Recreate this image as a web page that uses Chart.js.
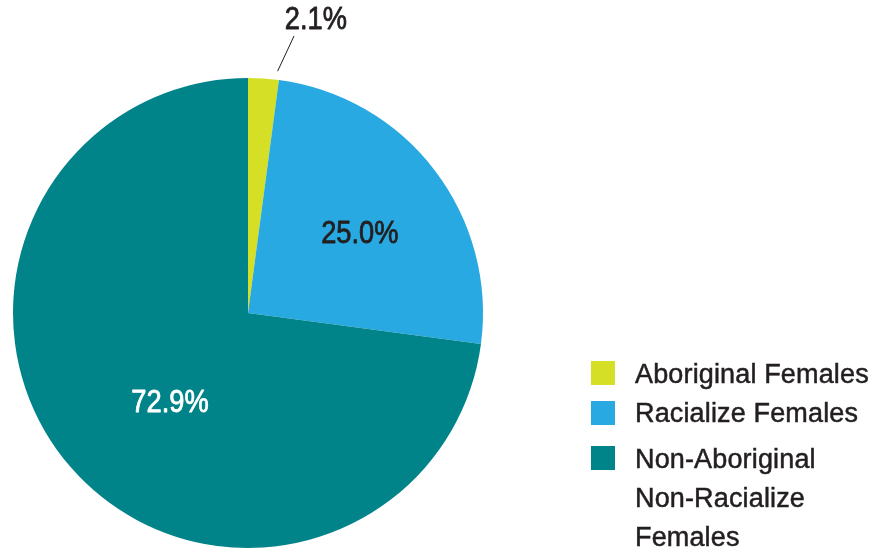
<!DOCTYPE html>
<html>
<head>
<meta charset="utf-8">
<script src="https://cdn.jsdelivr.net/npm/chart.js@4"></script>
<style>
  html, body { margin: 0; padding: 0; background: #fff; }
  #wrap { position: relative; width: 879px; height: 550px; overflow: hidden; }
  #c { position: absolute; left: 0; top: 0; }
  .lg-box { position: absolute; width: 24px; height: 24px; }
  .lg-txt { position: absolute; font-family: "Liberation Sans", Arial, sans-serif; font-size: 27px; line-height: 39px; color: #231f20; white-space: nowrap; -webkit-text-stroke: 0.5px #231f20; letter-spacing: 0.15px; }
</style>
</head>
<body>
<div id="wrap">
  <canvas id="c" width="879" height="550"></canvas>
  <div id="legend"></div>
</div>
<script>
const categories = ["Aboriginal Females", "Racialize Females", "Non-Aboriginal Non-Racialize Females"];
const legendLines = [["Aboriginal Females"], ["Racialize Females"], ["Non-Aboriginal", "Non-Racialize", "Females"]];
const values = [2.1, 25.0, 72.9];
const valueLabels = ["2.1%", "25.0%", "72.9%"];
const colors = ["#d5df25", "#29a9e1", "#00848a"];
const labelColors = ["#231f20", "#231f20", "#ffffff"];

const labelPlugin = {
  id: "sliceLabels",
  afterDatasetsDraw(chart) {
    const ctx = chart.ctx;
    const arcs = chart.getDatasetMeta(0).data;
    const a0 = arcs[0];
    const cx = a0.x, cy = a0.y, R = a0.outerRadius;
    const place = [
      { dx: 0.289, dy: -1.243 },
      { dx: 0.476, dy: -0.335 },
      { dx: -0.332, dy: 0.383 }
    ];
    ctx.save();
    ctx.font = "31px 'Liberation Sans', Arial, sans-serif";
    ctx.textAlign = "center";
    ctx.textBaseline = "middle";
    ctx.lineJoin = "round";
    arcs.forEach((arc, i) => {
      const x = cx + place[i].dx * R, y = cy + place[i].dy * R;
      ctx.save();
      ctx.translate(x, y);
      ctx.scale(0.88, 1);
      ctx.fillStyle = labelColors[i];
      ctx.strokeStyle = labelColors[i];
      ctx.lineWidth = 0.8;
      ctx.fillText(valueLabels[i], 0, 0);
      ctx.strokeText(valueLabels[i], 0, 0);
      ctx.restore();
    });
    ctx.strokeStyle = "#231f20";
    ctx.lineWidth = 1;
    ctx.beginPath();
    ctx.moveTo(cx + 0.126 * R, cy - 1.029 * R);
    ctx.lineTo(cx + 0.196 * R, cy - 1.179 * R);
    ctx.stroke();
    ctx.restore();
  }
};

new Chart(document.getElementById("c"), {
  type: "pie",
  data: {
    labels: categories,
    datasets: [{
      data: values,
      backgroundColor: colors,
      borderWidth: 0
    }]
  },
  options: {
    responsive: false,
    animation: false,
    layout: { padding: { top: 78, bottom: 2, left: 13, right: 396 } },
    plugins: {
      legend: { display: false },
      tooltip: { enabled: false }
    }
  },
  plugins: [labelPlugin]
});

const legend = document.getElementById("legend");
const boxTops = [361, 401, 446];
const textTops = [355, 394, 440];
categories.forEach((c, i) => {
  const b = document.createElement("div");
  b.className = "lg-box";
  b.style.left = "591px";
  b.style.top = boxTops[i] + "px";
  b.style.background = colors[i];
  legend.appendChild(b);
  const t = document.createElement("div");
  t.className = "lg-txt";
  t.style.left = "635px";
  t.style.top = textTops[i] + "px";
  t.innerHTML = legendLines[i].join("<br>");
  legend.appendChild(t);
});
</script>
</body>
</html>
